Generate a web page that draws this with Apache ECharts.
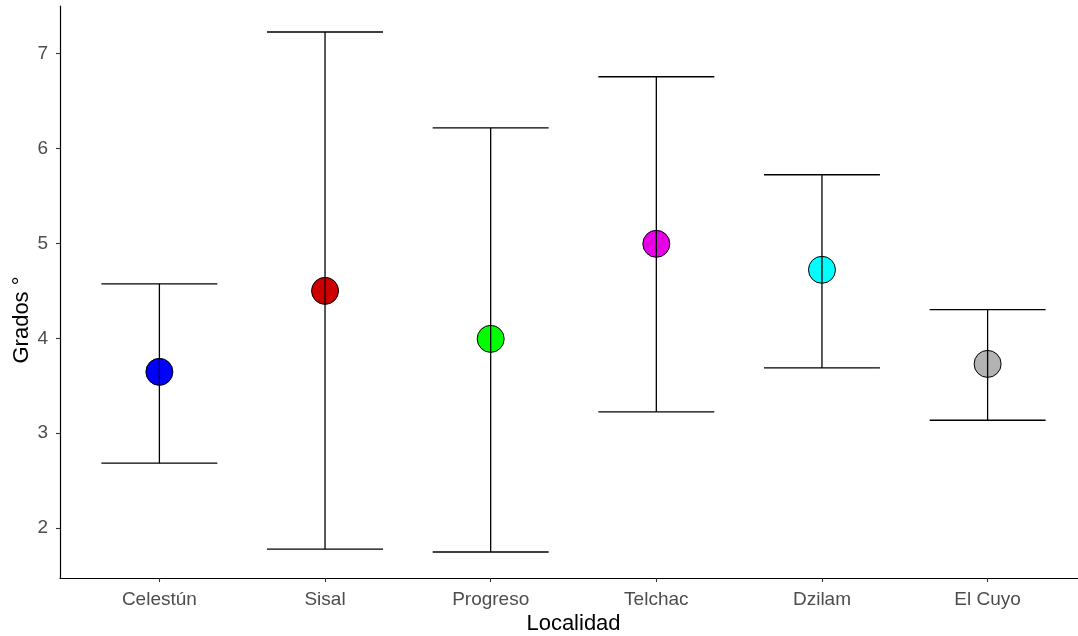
<!DOCTYPE html>
<html>
<head>
<meta charset="utf-8">
<script src="https://cdn.jsdelivr.net/npm/echarts@6/dist/echarts.min.js"></script>
<style>
  html, body { margin: 0; padding: 0; background: #fff; }
  #chart { width: 1078px; height: 636px; }
</style>
</head>
<body>
<div id="chart"></div>
<script>
// Localidades y estadísticas (media y límites de la barra de error)
const localidades = ['Celestún', 'Sisal', 'Progreso', 'Telchac', 'Dzilam', 'El Cuyo'];
const medias   = [3.646, 4.500, 3.994, 4.996, 4.722, 3.730];
const inferior = [2.683, 1.778, 1.747, 3.224, 3.688, 3.136];
const superior = [4.574, 7.229, 6.219, 6.757, 5.724, 4.303];
const colores  = ['#0000FF', '#CC0000', '#00FF00', '#E600E6', '#00FFFF', '#B3B3B3'];
const ticksY   = [2, 3, 4, 5, 6, 7];

const posiciones = localidades.map((_, i) => i + 1);
const minY = 1.473, maxY = 7.503;

const puntos = posiciones.map((x, i) => ({
  value: [x, medias[i]],
  itemStyle: { color: colores[i] }
}));
const barras = posiciones.map((x, i) => [x, inferior[i], superior[i]]);

const chart = echarts.init(document.getElementById('chart'), null, { renderer: 'canvas' });

const fuente = 'Liberation Sans, Arial, sans-serif';

chart.setOption({
  animation: false,
  backgroundColor: '#fff',
  grid: { left: 60, right: -9, top: 6, bottom: 58, containLabel: false, outerBoundsMode: 'none' },
  xAxis: {
    type: 'value',
    min: 0.4,
    max: 6.6,
    name: 'Localidad',
    nameLocation: 'middle',
    nameGap: 35,
    nameMoveOverlap: false,
    nameTextStyle: { color: '#000', fontSize: 22, fontFamily: fuente },
    splitLine: { show: false },
    axisLine: { show: true, onZero: false, lineStyle: { color: '#000', width: 1.2 } },
    axisTick: { show: true, length: 4, customValues: posiciones, lineStyle: { color: '#333', width: 1.1 } },
    axisLabel: {
      customValues: posiciones,
      color: '#4D4D4D',
      fontSize: 19,
      fontFamily: fuente,
      margin: 12,
      formatter: v => localidades[Math.round(v) - 1] || ''
    }
  },
  yAxis: {
    type: 'value',
    min: minY,
    max: maxY,
    name: 'Grados °',
    nameLocation: 'middle',
    nameGap: 27,
    nameMoveOverlap: false,
    nameTextStyle: { color: '#000', fontSize: 22, fontFamily: fuente, padding: [0, 56, 0, 0] },
    splitLine: { show: false },
    axisLine: { show: true, onZero: false, lineStyle: { color: '#000', width: 1.2 } },
    axisTick: { show: true, length: 4, customValues: ticksY, lineStyle: { color: '#333', width: 1.1 } },
    axisLabel: {
      customValues: ticksY,
      color: '#4D4D4D',
      fontSize: 19,
      fontFamily: fuente,
      margin: 12
    }
  },
  series: [
    {
      type: 'scatter',
      data: puntos,
      symbol: 'circle',
      symbolSize: 27,
      itemStyle: { borderColor: '#000', borderWidth: 1, opacity: 1 },
      z: 2
    },
    {
      type: 'custom',
      data: barras,
      z: 3,
      renderItem: function (params, api) {
        const x = api.value(0);
        const lo = api.value(1);
        const hi = api.value(2);
        const semi = 0.35;
        const pLo = api.coord([x, lo]);
        const pHi = api.coord([x, hi]);
        const aL = api.coord([x - semi, lo]);
        const aR = api.coord([x + semi, lo]);
        const bL = api.coord([x - semi, hi]);
        const bR = api.coord([x + semi, hi]);
        const estilo = { stroke: '#000', lineWidth: 1.3 };
        return {
          type: 'group',
          children: [
            { type: 'line', shape: { x1: pLo[0], y1: pLo[1], x2: pHi[0], y2: pHi[1] }, style: estilo },
            { type: 'line', shape: { x1: aL[0], y1: aL[1], x2: aR[0], y2: aR[1] }, style: estilo },
            { type: 'line', shape: { x1: bL[0], y1: bL[1], x2: bR[0], y2: bR[1] }, style: estilo }
          ]
        };
      }
    }
  ]
});
</script>
</body>
</html>
